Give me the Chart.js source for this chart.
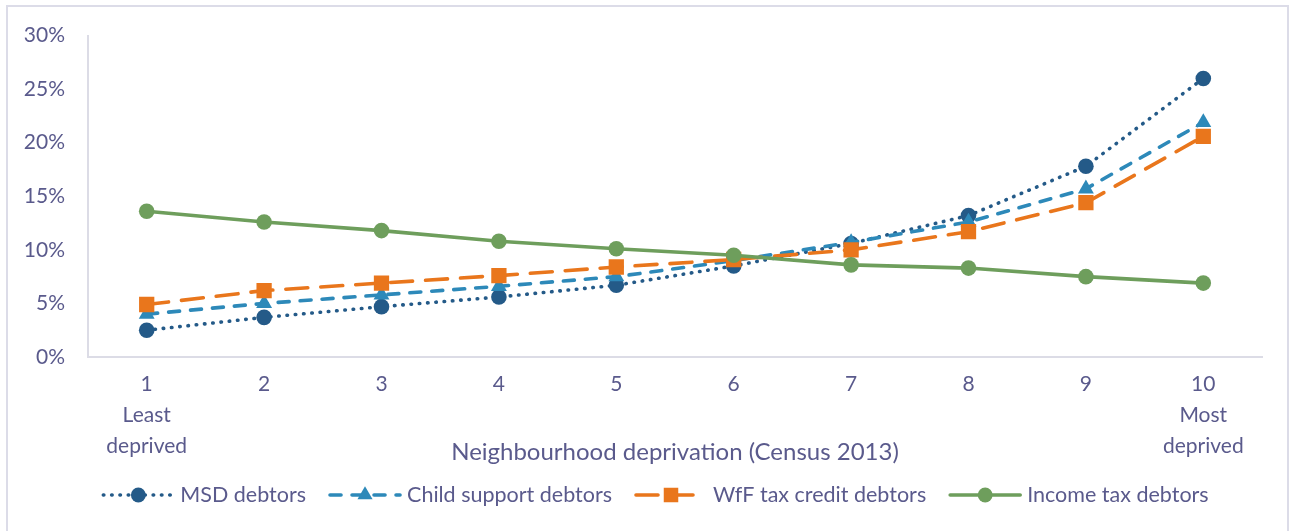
<!DOCTYPE html>
<html>
<head>
<meta charset="utf-8">
<script src="https://cdn.jsdelivr.net/npm/chart.js@4"></script>
<style>
  html, body { margin: 0; padding: 0; background: #ffffff; overflow: hidden; }
  #wrap { position: relative; width: 1293px; height: 531px; }
  #frame { position: absolute; left: 6px; top: 5px; width: 1283px; height: 560px;
           border: 2px solid #dcdce8; box-sizing: border-box; pointer-events: none; }
  canvas { position: absolute; left: 0; top: 0; }
</style>
</head>
<body>
<div id="wrap">
  <canvas id="chart" width="1293" height="531"></canvas>
  <div id="frame"></div>
</div>
<script>
// Deprivation deciles (1 = least deprived, 10 = most deprived)
const categories = ['1', '2', '3', '4', '5', '6', '7', '8', '9', '10'];
const firstNote = ['Least', 'deprived'];
const lastNote = ['Most', 'deprived'];

// Share of each debtor group living in each decile (%)
const msdDebtors = [2.5, 3.7, 4.7, 5.6, 6.7, 8.5, 10.6, 13.2, 17.8, 26.0];
const childSupportDebtors = [4.0, 5.0, 5.8, 6.6, 7.5, 9.0, 10.7, 12.6, 15.7, 21.9];
const wffDebtors = [4.9, 6.2, 6.9, 7.6, 8.4, 9.1, 10.0, 11.7, 14.4, 20.6];
const incomeTaxDebtors = [13.6, 12.6, 11.8, 10.8, 10.1, 9.5, 8.6, 8.3, 7.5, 6.9];

const seriesNames = ['MSD debtors', 'Child support debtors', 'WfF tax credit debtors', 'Income tax debtors'];
const axisTitle = 'Neighbourhood deprivation (Census 2013)';
const yTicks = { min: 0, max: 30, step: 5 };

const TEXT = '#5a5a8c';
const FONT = 'Lato, "Open Sans", sans-serif';

const xLabels = categories.map((c, i) => {
  if (i === 0) return [c, ...firstNote];
  if (i === categories.length - 1) return [c, ...lastNote];
  return c;
});

const datasets = [
  {
    label: seriesNames[0], data: msdDebtors, order: 4,
    borderColor: '#245a88', backgroundColor: '#245a88',
    borderWidth: 3.6, borderDash: [0.5, 7.8], borderCapStyle: 'round',
    pointStyle: 'circle', pointRadius: 7.8, pointBorderWidth: 0
  },
  {
    label: seriesNames[1], data: childSupportDebtors, order: 3,
    borderColor: '#2d89b9', backgroundColor: '#2d89b9',
    borderWidth: 3.6, borderDash: [11, 11], borderCapStyle: 'round',
    pointStyle: 'triangle', pointRadius: 9.2, pointBorderWidth: 0
  },
  {
    label: seriesNames[2], data: wffDebtors, order: 2,
    borderColor: '#e9761c', backgroundColor: '#e9761c',
    borderWidth: 3.6, borderDash: [22, 13], borderCapStyle: 'round',
    pointStyle: 'rect', pointRadius: 10.8, pointBorderWidth: 0
  },
  {
    label: seriesNames[3], data: incomeTaxDebtors, order: 1,
    borderColor: '#6e9e5c', backgroundColor: '#6e9e5c',
    borderWidth: 3.6, borderDash: [], borderCapStyle: 'round',
    pointStyle: 'circle', pointRadius: 7.8, pointBorderWidth: 0
  }
];

// Axis title and line+marker legend drawn under the plot
const extras = {
  id: 'extras',
  afterDraw(chart) {
    const ctx = chart.ctx;
    const area = chart.chartArea;
    ctx.save();
    ctx.fillStyle = TEXT;
    ctx.font = '24px ' + FONT;
    ctx.textAlign = 'center';
    ctx.textBaseline = 'middle';
    ctx.fillText(axisTitle, (area.left + area.right) / 2, 452);

    ctx.font = '21.5px ' + FONT;
    const lineLen = 70, gapText = 7, gapItem = 24;
    const widths = datasets.map(d => ctx.measureText(d.label).width);
    const total = widths.reduce((a, w) => a + lineLen + gapText + w, 0) + gapItem * (datasets.length - 1);
    let x = 656 - total / 2;
    const y = 495;
    datasets.forEach((d, i) => {
      ctx.save();
      ctx.strokeStyle = d.borderColor;
      ctx.lineWidth = d.borderWidth;
      ctx.lineCap = d.borderCapStyle;
      ctx.setLineDash(d.borderDash);
      ctx.beginPath();
      ctx.moveTo(x, y);
      ctx.lineTo(x + lineLen, y);
      ctx.stroke();
      ctx.restore();
      ctx.save();
      ctx.fillStyle = d.backgroundColor;
      ctx.strokeStyle = d.borderColor;
      Chart.helpers.drawPoint(ctx, { pointStyle: d.pointStyle, radius: d.pointRadius * 0.95, rotation: 0, borderWidth: 0 }, x + lineLen / 2, y);
      ctx.restore();
      ctx.fillStyle = TEXT;
      ctx.textAlign = 'left';
      ctx.fillText(d.label, x + lineLen + gapText, y);
      x += lineLen + gapText + widths[i] + gapItem;
    });
    ctx.restore();
  }
};

new Chart(document.getElementById('chart'), {
  type: 'line',
  data: { labels: xLabels, datasets },
  options: {
    responsive: false,
    animation: false,
    layout: { padding: { top: 35, right: 31, bottom: 0, left: 0 } },
    plugins: { legend: { display: false }, tooltip: { enabled: false } },
    elements: { line: { tension: 0 } },
    scales: {
      x: {
        type: 'category',
        offset: true,
        grid: { display: true, color: 'rgba(0,0,0,0)', drawTicks: false },
        border: { display: true, color: '#dcdce6', width: 2 },
        ticks: { color: TEXT, padding: 12, maxRotation: 0, autoSkip: false,
                 font: { family: FONT, size: 21, lineHeight: '31px' } },
        afterFit(scale) { scale.height = 174; }
      },
      y: {
        min: yTicks.min, max: yTicks.max,
        grid: { display: true, color: 'rgba(0,0,0,0)', drawTicks: false },
        border: { display: true, color: '#dcdce6', width: 2 },
        ticks: { stepSize: yTicks.step, color: TEXT, padding: 23,
                 font: { family: FONT, size: 21 },
                 callback: v => v + '%' },
        afterFit(scale) { scale.width = 88; }
      }
    }
  },
  plugins: [extras]
});
</script>
</body>
</html>
